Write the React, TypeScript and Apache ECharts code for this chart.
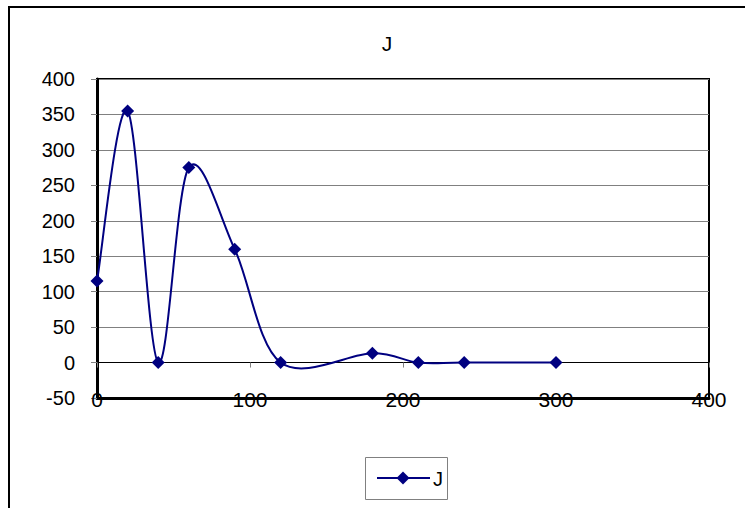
import React, { useEffect, useRef } from "react";
import * as echarts from "echarts";

const xValues = [0, 20, 40, 60, 90, 120, 180, 210, 240, 300];
const jValues = [115, 355, 0, 275, 160, 0, 13, 0, 0, 0];
const seriesName = "J";
const titleText = "J";

const FONT = "'Liberation Sans', Arial, sans-serif";
const NAVY = "#000080";

function catmullRomPath(pts: number[][]): string {
  if (!pts.length) return "";
  let d = `M${pts[0][0]},${pts[0][1]}`;
  for (let i = 0; i < pts.length - 1; i++) {
    const p0 = pts[i - 1] || pts[i];
    const p1 = pts[i];
    const p2 = pts[i + 1];
    const p3 = pts[i + 2] || pts[i + 1];
    const c1x = p1[0] + (p2[0] - p0[0]) / 6;
    const c1y = p1[1] + (p2[1] - p0[1]) / 6;
    const c2x = p2[0] - (p3[0] - p1[0]) / 6;
    const c2y = p2[1] - (p3[1] - p1[1]) / 6;
    d += ` C${c1x},${c1y} ${c2x},${c2y} ${p2[0]},${p2[1]}`;
  }
  return d;
}

export default function App() {
  const ref = useRef<HTMLDivElement>(null);
  useEffect(() => {
    if (!ref.current) return;
    const chart = echarts.init(ref.current, null, { renderer: "svg" });
    const data = xValues.map((x, i) => [x, jValues[i]]);
    chart.setOption({
      animation: false,
      backgroundColor: "#fff",
      graphic: [
        {
          type: "rect",
          shape: { x: 9, y: 7, width: 800, height: 600 },
          style: { fill: "none", stroke: "#000", lineWidth: 2 },
          z: 100,
        },
        {
          type: "text",
          x: 387,
          y: 43,
          style: {
            text: titleText,
            fontFamily: FONT,
            fontSize: 21,
            fill: "#000",
            textAlign: "center",
            textVerticalAlign: "middle",
          },
        },
        {
          type: "rect",
          shape: { x: 365.5, y: 457.5, width: 82, height: 42 },
          style: { fill: "#fff", stroke: "#808080", lineWidth: 1 },
          z: 100,
        },
        {
          type: "line",
          shape: { x1: 377, y1: 478, x2: 430, y2: 478 },
          style: { stroke: NAVY, lineWidth: 2 },
          z: 101,
        },
        {
          type: "polygon",
          shape: {
            points: [
              [403, 471.5],
              [409.5, 478],
              [403, 484.5],
              [396.5, 478],
            ],
          },
          style: { fill: NAVY },
          z: 102,
        },
        {
          type: "text",
          x: 433,
          y: 479,
          style: {
            text: seriesName,
            fontFamily: FONT,
            fontSize: 20,
            fill: "#000",
            textAlign: "left",
            textVerticalAlign: "middle",
          },
          z: 102,
        },
      ],
      grid: {
        left: 97,
        top: 79,
        right: 36,
        bottom: 110,
        show: true,
        borderColor: "#000",
        borderWidth: 2,
        backgroundColor: "transparent",
      },
      xAxis: [
        {
          type: "value",
          min: 0,
          max: 400,
          interval: 100,
          position: "bottom",
          axisLine: { onZero: false, lineStyle: { color: "#000", width: 3 } },
          axisTick: { show: false },
          splitLine: { show: false },
          axisLabel: {
            fontFamily: FONT,
            fontSize: 21,
            color: "#000",
            verticalAlign: "middle",
            margin: 1,
          },
        },
        {
          type: "value",
          min: 0,
          max: 400,
          interval: 100,
          position: "bottom",
          axisLine: { onZero: true, lineStyle: { color: "#000", width: 1 } },
          axisTick: { show: true, inside: false, length: 5, lineStyle: { color: "#808080" } },
          splitLine: { show: false },
          axisLabel: { show: false },
        },
      ],
      yAxis: {
        type: "value",
        min: -50,
        max: 400,
        interval: 50,
        axisLine: { show: true, lineStyle: { color: "#000", width: 3 } },
        axisTick: { show: true, inside: false, length: 6, lineStyle: { color: "#808080" } },
        splitLine: { show: true, lineStyle: { color: "#808080", width: 1 } },
        axisLabel: {
          fontFamily: FONT,
          fontSize: 20,
          color: "#000",
          margin: 22,
        },
      },
      series: [
        {
          name: seriesName,
          type: "custom",
          coordinateSystem: "cartesian2d",
          xAxisIndex: 0,
          data: [data[0]],
          z: 4,
          renderItem: (params: any, api: any) => {
            const pts = data.map((p) => api.coord(p));
            return {
              type: "path",
              shape: { pathData: catmullRomPath(pts) },
              style: { fill: "none", stroke: NAVY, lineWidth: 2 },
            };
          },
        },
        {
          name: seriesName,
          type: "scatter",
          xAxisIndex: 0,
          data,
          symbol: "diamond",
          symbolSize: 13,
          itemStyle: { color: NAVY, opacity: 1 },
          z: 5,
        },
      ],
    });
    return () => chart.dispose();
  }, []);
  return (
    <div
      ref={ref}
      style={{ position: "fixed", left: 0, top: 0, width: 745, height: 508 }}
    />
  );
}
